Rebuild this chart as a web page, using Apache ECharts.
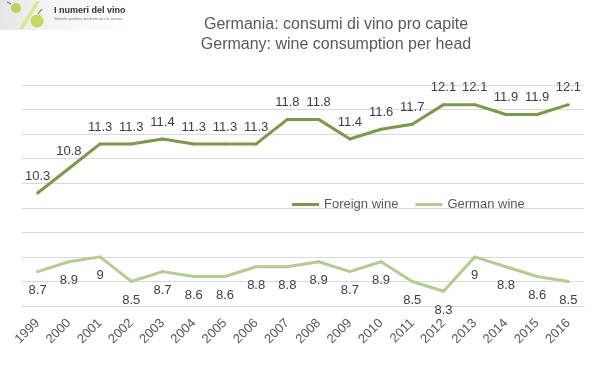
<!DOCTYPE html>
<html>
<head>
<meta charset="utf-8">
<script src="https://cdn.jsdelivr.net/npm/echarts@6/dist/echarts.min.js"></script>
<style>html,body{margin:0;padding:0;background:#fff}#c{width:600px;height:378px}</style>
</head>
<body>
<div id="c"></div>
<script>
var years = ['1999','2000','2001','2002','2003','2004','2005','2006','2007','2008','2009','2010','2011','2012','2013','2014','2015','2016'];
var foreignWine = [10.3,10.8,11.3,11.3,11.4,11.3,11.3,11.3,11.8,11.8,11.4,11.6,11.7,12.1,12.1,11.9,11.9,12.1];
var germanWine = [8.7,8.9,9,8.5,8.7,8.6,8.6,8.8,8.8,8.9,8.7,8.9,8.5,8.3,9,8.8,8.6,8.5];
var seriesNames = ['Foreign wine','German wine'];
var titleText = 'Germania: consumi di vino pro capite\nGermany: wine consumption per head';

var chart = echarts.init(document.getElementById('c'), null, {renderer:'canvas'});
var labelFont = {fontFamily:'Liberation Sans', fontSize:13, color:'#404040'};
chart.setOption({
  animation:false,
  backgroundColor:'#fff',
  title:{
    text:titleText, left:331, top:10, textAlign:'center',
    textStyle:{fontFamily:'Liberation Sans', fontSize:16, fontWeight:'normal', color:'#595959', lineHeight:20}
  },
  legend:{
    left:287, top:193, itemWidth:27, itemHeight:3, itemGap:17, icon:'rect',
    textStyle:{fontFamily:'Liberation Sans', fontSize:13, color:'#595959'},
    data:seriesNames
  },
  grid:{left:22, right:16, top:85, bottom:72},
  xAxis:{
    type:'category', data:years, boundaryGap:true,
    axisLine:{lineStyle:{color:'#d9d9d9'}}, axisTick:{show:false},
    axisLabel:{rotate:45, margin:15, fontFamily:'Liberation Sans', fontSize:13, color:'#595959', interval:0}
  },
  yAxis:{
    type:'value', min:8, max:12.5, interval:0.5,
    axisLabel:{show:false}, axisLine:{show:false}, axisTick:{show:false},
    splitLine:{lineStyle:{color:'#d9d9d9', width:1}}
  },
  series:[
    {name:seriesNames[0], type:'line', data:foreignWine, symbol:'circle', symbolSize:3, showSymbol:true,
     itemStyle:{color:'#7b9a48'}, color:'#7b9a48',
     lineStyle:{width:3, color:'#7b9a48'},
     label:Object.assign({show:true, position:'top', distance:9}, labelFont)},
    {name:seriesNames[1], type:'line', data:germanWine, symbol:'circle', symbolSize:3, showSymbol:true,
     itemStyle:{color:'#b5cc8f'}, color:'#b5cc8f',
     lineStyle:{width:3, color:'#b5cc8f'},
     label:Object.assign({show:true, position:'bottom', distance:11}, labelFont)}
  ],
  graphic:[
    {type:'rect', left:0, top:0, shape:{width:125, height:30},
     style:{fill:new echarts.graphic.LinearGradient(0,0,1,0,[{offset:0,color:'#e6e6e6'},{offset:0.4,color:'#f4f4f4'},{offset:1,color:'#ffffff'}])}, z:1},
    {type:'polygon', shape:{points:[[36,1],[40,1],[23,29],[19,29]]}, style:{fill:'#d9e88a'}, z:2},
    {type:'circle', shape:{cx:16, cy:8, r:5}, style:{fill:'#b9d45a'}, z:3},
    {type:'line', shape:{x1:11, y1:4, x2:7, y2:2}, style:{stroke:'#6b5a2a', lineWidth:1}, z:3},
    {type:'circle', shape:{cx:37, cy:21, r:6.5}, style:{fill:'#c2db5e'}, z:3},
    {type:'line', shape:{x1:38, y1:14, x2:42, y2:9}, style:{stroke:'#6b5a2a', lineWidth:1}, z:3},
    {type:'text', left:54, top:6, style:{text:'I numeri del vino', fontFamily:'Liberation Sans', fontSize:9, fontWeight:'bold', fill:'#333333'}, z:4},
    {type:'text', left:54, top:18, style:{text:'Statistiche produttive, dati di mercato e di consumo.', fontFamily:'Liberation Sans', fontSize:3, fill:'#777777'}, z:4}
  ]
});
</script>
</body>
</html>
